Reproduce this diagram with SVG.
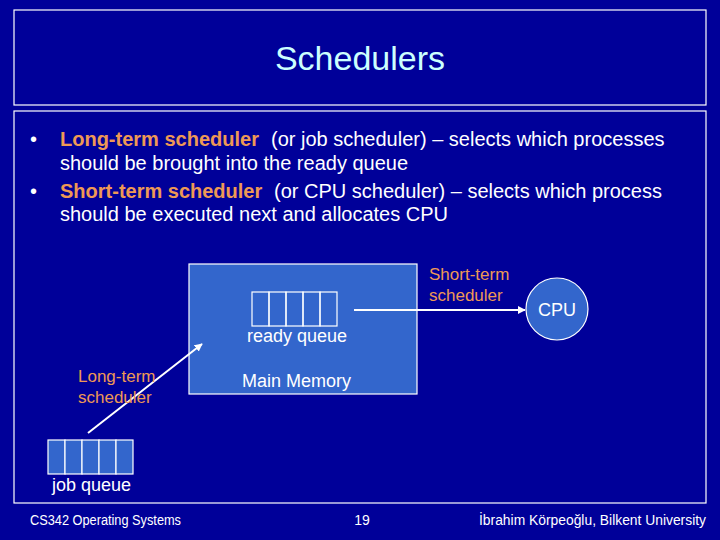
<svg xmlns="http://www.w3.org/2000/svg" width="720" height="540" viewBox="0 0 720 540">
<style>
text{font-family:"Liberation Sans",Arial,sans-serif}
.frame{fill:none;stroke:#ffffff;stroke-width:1.2}
.title{font-size:34px;fill:#ccffff;text-anchor:middle}
.body{font-size:20px;fill:#ffffff}
.hl{font-size:20px;fill:#ee9955;font-weight:bold}
.lbl{font-size:18px;fill:#ffffff}
.olbl{font-size:17px;fill:#ee9955}
.foot{font-size:14px;fill:#ffffff}
.box{fill:#3366cc;stroke:#ffffff;stroke-width:1.2}
.cell{fill:none;stroke:#ffffff;stroke-width:1.2}
.fcell{fill:#3366cc;stroke:#ffffff;stroke-width:1.2}
.conn{stroke:#ffffff;stroke-width:2;fill:none}
</style>
<defs>
<marker id="ah" viewBox="0 0 10 10" refX="9" refY="5" markerWidth="4" markerHeight="4" orient="auto" markerUnits="strokeWidth">
<path d="M0,0 L10,5 L0,10 z" fill="#ffffff"/>
</marker>
</defs>
<rect width="720" height="540" fill="#000099"/>
<rect class="frame" x="14" y="10" width="692" height="95"/>
<rect class="frame" x="14" y="111" width="692" height="392"/>
<text class="title" x="360" y="70">Schedulers</text>
<g id="bullets">
<text class="body" x="30" y="146">•</text>
<text class="hl" x="60" y="146">Long-term scheduler</text>
<text class="body" x="271" y="146">(or job scheduler) – selects which processes</text>
<text class="body" x="60" y="170">should be brought into the ready queue</text>
<text class="body" x="30" y="198">•</text>
<text class="hl" x="60" y="198">Short-term scheduler</text>
<text class="body" x="274" y="198">(or CPU scheduler) – selects which process</text>
<text class="body" x="60" y="221">should be executed next and allocates CPU</text>
</g>
<g id="main-memory">
<rect class="box" x="189" y="264" width="228" height="130"/>
<text class="lbl" x="242" y="387">Main Memory</text>
</g>
<g id="ready-queue">
<rect class="cell" x="252" y="292" width="17" height="34"/>
<rect class="cell" x="269" y="292" width="17" height="34"/>
<rect class="cell" x="286" y="292" width="17" height="34"/>
<rect class="cell" x="303" y="292" width="17" height="34"/>
<rect class="cell" x="320" y="292" width="17" height="34"/>
<text class="lbl" x="297" y="342" text-anchor="middle">ready queue</text>
</g>
<g id="cpu">
<circle class="box" cx="557" cy="309" r="31"/>
<text class="lbl" x="557" y="316" text-anchor="middle">CPU</text>
</g>
<g id="job-queue">
<rect class="fcell" x="48" y="440" width="17" height="34"/>
<rect class="fcell" x="65" y="440" width="17" height="34"/>
<rect class="fcell" x="82" y="440" width="17" height="34"/>
<rect class="fcell" x="99" y="440" width="17" height="34"/>
<rect class="fcell" x="116" y="440" width="17" height="34"/>
<text class="lbl" x="52" y="491">job queue</text>
</g>
<g id="connectors">
<line class="conn" x1="354" y1="310" x2="525" y2="310" marker-end="url(#ah)"/>
<line class="conn" x1="88" y1="433" x2="202" y2="344" marker-end="url(#ah)"/>
<text class="olbl" x="429" y="280">Short-term</text>
<text class="olbl" x="429" y="301">scheduler</text>
<text class="olbl" x="78" y="382">Long-term</text>
<text class="olbl" x="78" y="403">scheduler</text>
</g>
<g id="footer">
<text class="foot" x="30" y="525" textLength="151" lengthAdjust="spacingAndGlyphs">CS342 Operating Systems</text>
<text class="foot" x="362" y="525" text-anchor="middle">19</text>
<text class="foot" x="479" y="525" textLength="227" lengthAdjust="spacingAndGlyphs">İbrahim Körpeoğlu, Bilkent University</text>
</g>
</svg>
